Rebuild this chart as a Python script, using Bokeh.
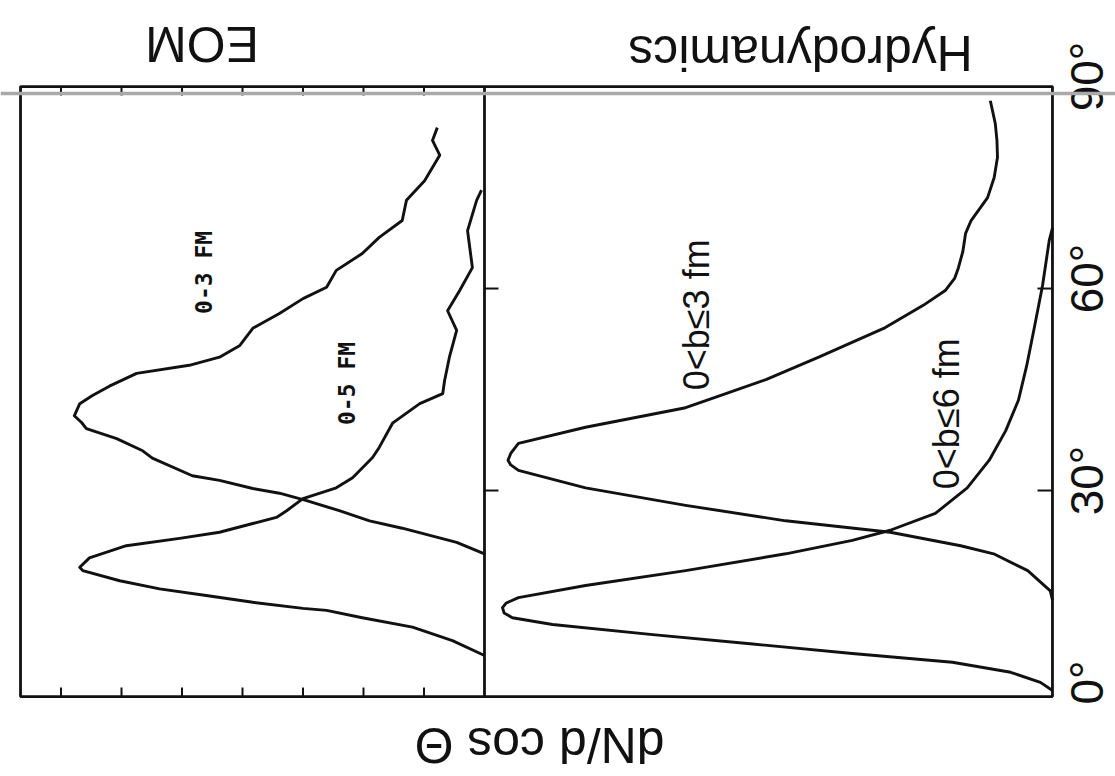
import math
from bokeh.plotting import figure
from bokeh.models import Range1d, Span
from bokeh.core.properties import value
from bokeh.embed import file_html
from bokeh.resources import INLINE

# ---------------- data (angle in degrees, dN/dcos(theta) in arbitrary units) ----------------
# EOM panel, impact parameter 0-3 fm
eom_03_angle = [20.6, 22.3, 24.4, 25.5, 27.0, 28.5, 29.6, 30.3, 31.5, 32.2, 34.8, 35.9, 37.7,
                39.2, 40.1, 41.1, 42.9, 44.1, 45.5, 47.4, 48.6, 49.8, 51.5, 54.1, 56.3, 58.5,
                60.2, 62.7, 65.2, 67.6, 70.1, 73.1, 76.0, 79.8, 82.0, 83.9]
eom_03_val = [0.0, 0.46, 1.36, 1.90, 2.40, 2.94, 3.39, 3.83, 4.38, 4.83, 5.49, 5.65, 6.08,
              6.58, 6.66, 6.78, 6.69, 6.48, 6.20, 5.75, 4.88, 4.38, 4.05, 3.83, 3.39, 3.00,
              2.61, 2.45, 2.02, 1.74, 1.36, 1.29, 0.99, 0.74, 0.86, 0.78]

# EOM panel, impact parameter 0-5 fm
eom_05_angle = [5.5, 7.7, 9.7, 11.1, 12.2, 12.5, 13.4, 14.4, 15.4, 16.6, 18.1, 18.6, 20.0,
                21.8, 22.9, 23.8, 25.1, 26.0, 27.0, 28.8, 30.4, 31.9, 34.9, 36.4, 40.0, 42.9,
                44.4, 46.3, 49.8, 53.8, 56.7, 59.7, 63.1, 68.6, 73.1, 74.6]
eom_05_val = [0.0, 0.53, 1.19, 2.02, 2.61, 3.00, 3.83, 4.60, 5.37, 6.03, 6.64, 6.69, 6.53,
              5.92, 5.04, 4.38, 3.83, 3.44, 3.27, 3.00, 2.45, 2.18, 1.85, 1.74, 1.52, 1.07,
              0.69, 0.66, 0.58, 0.46, 0.61, 0.41, 0.20, 0.28, 0.13, 0.05]

# Hydrodynamics panel, 0 < b <= 3 fm
hyd_b3_angle = [13.7, 15.1, 18.1, 20.6, 21.8, 23.8, 25.5, 27.8, 30.4, 33.0, 33.8, 34.5, 35.5,
                37.0, 39.4, 42.3, 44.5, 46.5, 49.8, 54.2, 57.5, 59.7, 61.5, 63.1, 65.5, 68.2,
                70.1, 73.5, 76.5, 79.5, 82.0, 84.5, 87.9]
hyd_b3_val = [0.0, 0.004, 0.045, 0.107, 0.167, 0.295, 0.485, 0.667, 0.849, 0.971, 0.985, 0.99,
              0.985, 0.971, 0.849, 0.667, 0.59, 0.52, 0.425, 0.304, 0.235, 0.195, 0.178, 0.171,
              0.163, 0.158, 0.148, 0.118, 0.106, 0.10, 0.101, 0.104, 0.113]

# Hydrodynamics panel, 0 < b <= 6 fm
hyd_b6_angle = [0.3, 1.5, 3.0, 4.5, 5.8, 7.2, 8.6, 10.1, 11.1, 11.8, 12.6, 13.3, 14.1, 15.9,
                18.1, 20.6, 22.6, 24.1, 26.6, 30.4, 34.5, 38.9, 43.4, 48.5, 54.2, 60.5, 67.1, 69.0]
hyd_b6_val = [0.0, 0.022, 0.076, 0.182, 0.364, 0.545, 0.727, 0.909, 0.982, 0.997, 1.0, 0.993,
              0.971, 0.849, 0.667, 0.485, 0.364, 0.295, 0.213, 0.155, 0.115, 0.085, 0.062,
              0.047, 0.033, 0.018, 0.006, 0.0]

angle_ticks = [0, 30, 60, 90]
angle_tick_labels = ["0°", "30°", "60°", "90°"]
inner_angle_ticks = [30, 60]
eom_ticks = [1, 2, 3, 4, 5, 6, 7]

# ---------------- panel geometry (data units) ----------------
ANG_BOTTOM, ANG_TOP = -0.6, 90.0          # angular extent of both panels
EOM_LEFT, EOM_RIGHT = 7.669, -9.388       # outer box in EOM units (right edge = hydro zero)
BLACK = "#111111"

p = figure(width=1115, height=776, output_backend="svg", toolbar_location=None,
           x_range=Range1d(8.0, -10.43), y_range=Range1d(-12.476, 102.78),
           x_axis_location=None, y_axis_location=None,
           min_border=0, min_border_left=0, min_border_right=0,
           min_border_top=0, min_border_bottom=0)
p.extra_x_ranges = {"hydro": Range1d(1.9127, -0.11455)}
p.grid.visible = False
p.outline_line_color = None
p.background_fill_color = "white"
p.border_fill_color = "white"

# faint scanner streak across the page
p.add_layout(Span(location=88.96, dimension="width", line_color="#a9a9a9", line_width=3.5))

# outer frame of both panels and the divider between them
p.quad(left=[EOM_LEFT], right=[EOM_RIGHT], bottom=[ANG_BOTTOM], top=[ANG_TOP],
       fill_color=None, line_color=BLACK, line_width=2.8)
p.segment(x0=[0], y0=[ANG_BOTTOM], x1=[0], y1=[ANG_TOP], line_color=BLACK, line_width=2.8)

# tick marks
p.ray(x=eom_ticks, y=[ANG_TOP] * len(eom_ticks), length=9, angle=-math.pi / 2,
      length_units="screen", line_color=BLACK, line_width=2)
p.ray(x=eom_ticks, y=[ANG_BOTTOM] * len(eom_ticks), length=9, angle=math.pi / 2,
      length_units="screen", line_color=BLACK, line_width=2)
p.ray(x=[0] * len(inner_angle_ticks), y=inner_angle_ticks, length=14, angle=0,
      length_units="screen", line_color=BLACK, line_width=2)
p.ray(x=[0] * len(inner_angle_ticks), y=inner_angle_ticks, length=15, angle=math.pi,
      length_units="screen", line_color=BLACK, line_width=2, x_range_name="hydro")

# angle tick labels (right side, rotated like the scan)
p.text(x=[-0.0636] * len(angle_ticks), y=angle_ticks, text=angle_tick_labels, angle=math.pi / 2,
       y_offset=-10, text_font=value("Liberation Sans"), text_font_size="46px",
       text_align="center", text_baseline="middle", text_color=BLACK, x_range_name="hydro")

# curves
lw = 2.9
p.line(eom_03_val, eom_03_angle, line_color=BLACK, line_width=lw, line_join="round")
p.line(eom_05_val, eom_05_angle, line_color=BLACK, line_width=lw, line_join="round")
p.line(hyd_b3_val, hyd_b3_angle, line_color=BLACK, line_width=lw, line_join="round",
       x_range_name="hydro")
p.line(hyd_b6_val, hyd_b6_angle, line_color=BLACK, line_width=lw, line_join="round",
       x_range_name="hydro")

# curve labels
p.text(x=[4.63, 2.27], y=[62.4, 45.9], text=["0-3 FM", "0-5 FM"], angle=math.pi / 2,
       text_font=value("DejaVu Sans Mono"), text_font_style="bold", text_font_size="23px",
       text_align="center", text_baseline="middle", text_color=BLACK)
p.text(x=[0.647, 0.193], y=[56.1, 41.4], text=["0<b≤3 fm", "0<b≤6 fm"], angle=math.pi / 2,
       text_font=value("Liberation Sans"), text_font_size="36px",
       text_align="center", text_baseline="middle", text_color=BLACK, x_range_name="hydro")

# panel titles and ordinate label (upside down, as in the scan)
p.text(x=[4.67], y=[96.39], text=["EOM"], angle=math.pi,
       text_font=value("Liberation Sans"), text_font_size="50px",
       text_align="center", text_baseline="middle", text_color=BLACK)
p.text(x=[0.458], y=[95.05], text=["Hydrodynamics"], angle=math.pi,
       text_font=value("Liberation Sans"), text_font_size="50px",
       text_align="center", text_baseline="middle", text_color=BLACK, x_range_name="hydro")
p.text(x=[-0.91], y=[-7.87], text=["dN/d cos Θ"], angle=math.pi,
       text_font=value("Liberation Sans"), text_font_size="50px",
       text_align="center", text_baseline="middle", text_color=BLACK)

open("out.html", "w").write(file_html(p, INLINE))
